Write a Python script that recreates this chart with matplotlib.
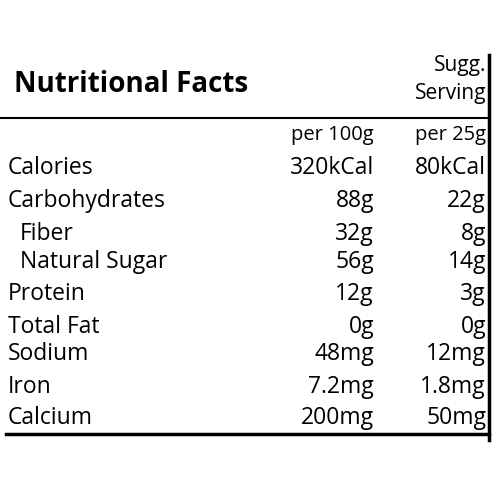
import matplotlib
matplotlib.use("Agg")
import matplotlib.pyplot as plt

labels = ["Calories", "Carbohydrates", "Fiber", "Natural Sugar", "Protein",
          "Total Fat", "Sodium", "Iron", "Calcium"]
indent = [False, False, True, True, False, False, False, False, False]
per100 = ["320kCal", "88g", "32g", "56g", "12g", "0g", "48mg", "7.2mg", "200mg"]
per25 = ["80kCal", "22g", "8g", "14g", "3g", "0g", "12mg", "1.8mg", "50mg"]
row_y = [168, 201, 234, 262, 294, 327, 354, 387, 418]

fig = plt.figure(figsize=(5, 5), dpi=100)
ax = fig.add_axes([0, 0, 1, 1])
ax.set_xlim(0, 500); ax.set_ylim(500, 0); ax.axis("off")
F = ["Open Sans", "DejaVu Sans"]
fs = 16.5
ax.text(14, 85, "Nutritional Facts", fontsize=20, fontweight="bold", family=F, va="center")
ax.text(486, 66, "Sugg.", fontsize=15, family=F, ha="right", va="center")
ax.text(486, 93, "Serving", fontsize=15, family=F, ha="right", va="center")
ax.plot([0, 490], [118, 118], color="black", lw=1.5)
ax.plot([489, 489], [55, 440], color="black", lw=2.5)
ax.plot([6, 489], [434, 434], color="black", lw=2.5)
ax.text(374, 135, "per 100g", fontsize=14.5, family=F, ha="right", va="center")
ax.text(486, 135, "per 25g", fontsize=14.5, family=F, ha="right", va="center")
for lab, ind, a, b, y in zip(labels, indent, per100, per25, row_y):
    ax.text(20 if ind else 8, y, lab, fontsize=fs, family=F, va="center")
    ax.text(374, y, a, fontsize=fs, family=F, ha="right", va="center")
    ax.text(486, y, b, fontsize=fs, family=F, ha="right", va="center")
fig.savefig("out.png", dpi=100)
